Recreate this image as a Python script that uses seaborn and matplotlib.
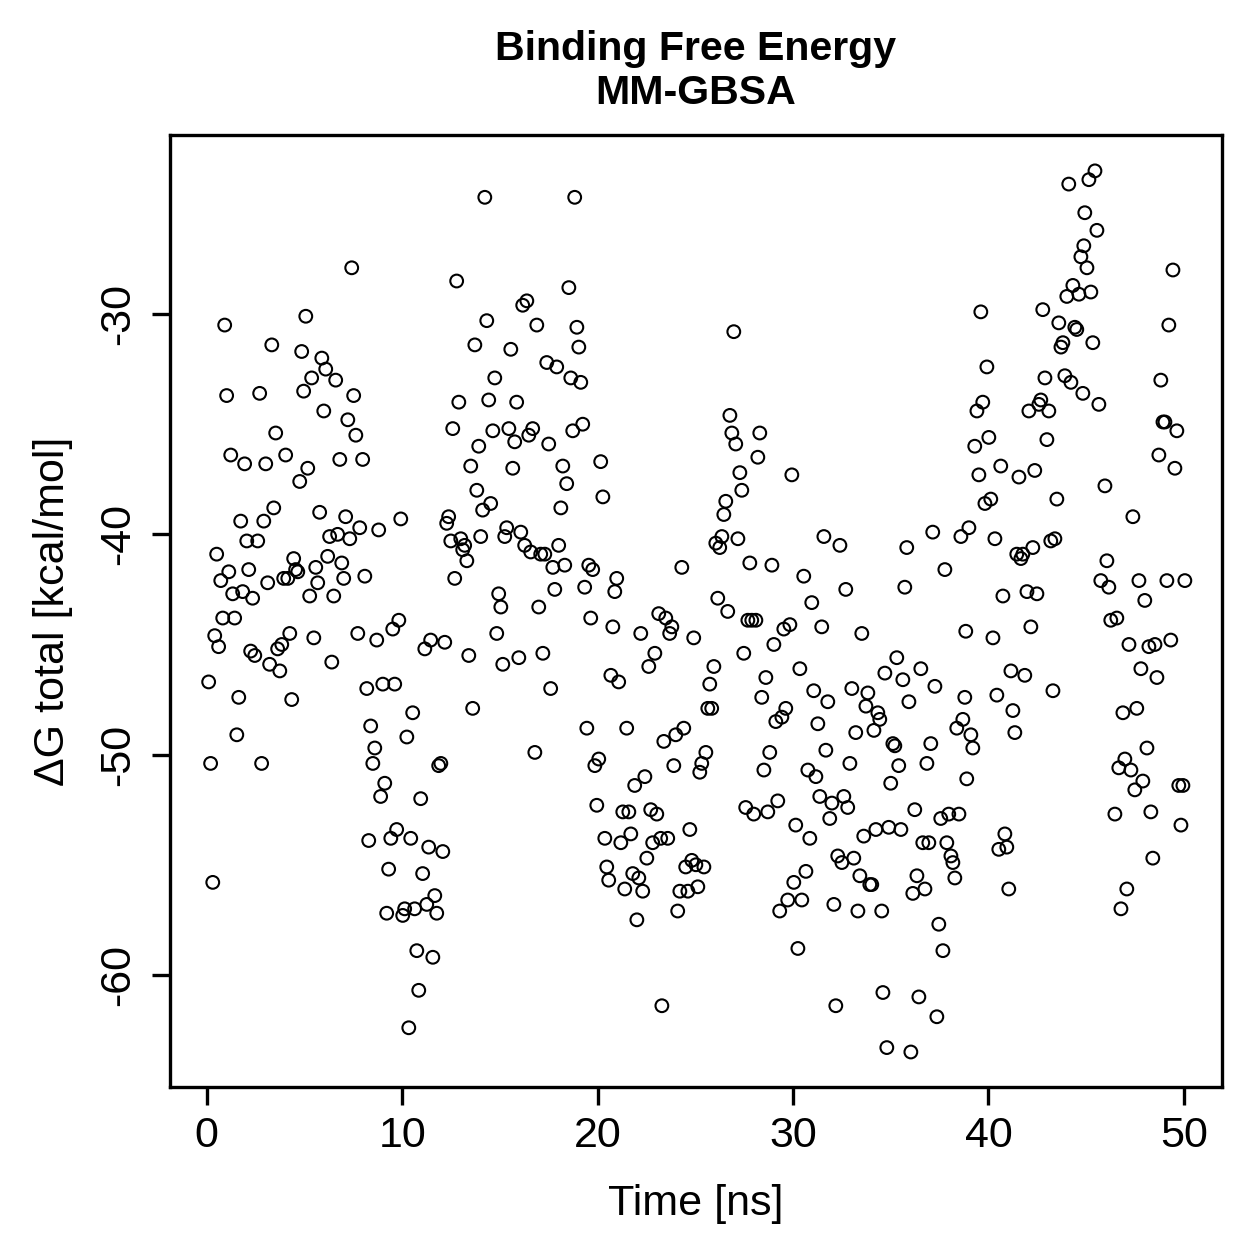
import matplotlib
matplotlib.use('Agg')
import matplotlib.pyplot as plt
import seaborn as sns
import pandas as pd

# time [ns] and total binding free energy [kcal/mol]
time_ns = [
    0.10, 0.20, 0.31, 0.41, 0.51, 0.61, 0.72, 0.82, 0.92, 1.02, 1.13, 1.23, 1.33, 1.43, 1.54, 1.64,
    1.74, 1.84, 1.94, 2.05, 2.15, 2.25, 2.35, 2.46, 2.61, 2.71, 2.81, 2.92, 3.02, 3.12, 3.22, 3.33,
    3.43, 3.53, 3.63, 3.74, 3.84, 3.94, 4.04, 4.15, 4.25, 4.35, 4.45, 4.55, 4.66, 4.76, 4.86, 4.96,
    5.07, 5.17, 5.27, 5.37, 5.48, 5.58, 5.68, 5.78, 5.89, 5.99, 6.09, 6.19, 6.29, 6.40, 6.50, 6.60,
    6.70, 6.81, 6.91, 7.01, 7.11, 7.22, 7.32, 7.42, 7.52, 7.63, 7.73, 7.83, 7.98, 8.09, 8.19, 8.29,
    8.39, 8.50, 8.60, 8.70, 8.80, 8.90, 9.01, 9.11, 9.21, 9.31, 9.42, 9.52, 9.62, 9.72, 9.83, 9.93,
    10.03, 10.13, 10.24, 10.34, 10.44, 10.54, 10.64, 10.75, 10.85, 10.95, 11.05, 11.16, 11.26, 11.36,
    11.46, 11.57, 11.67, 11.77, 11.87, 11.98, 12.08, 12.18, 12.28, 12.38, 12.49, 12.59, 12.69, 12.79,
    12.90, 13.00, 13.10, 13.20, 13.31, 13.41, 13.51, 13.61, 13.72, 13.82, 13.92, 14.02, 14.12, 14.23,
    14.33, 14.43, 14.53, 14.64, 14.74, 14.84, 14.94, 15.05, 15.15, 15.25, 15.35, 15.46, 15.56, 15.66,
    15.76, 15.86, 15.97, 16.07, 16.17, 16.27, 16.38, 16.48, 16.58, 16.68, 16.79, 16.89, 16.99, 17.09,
    17.20, 17.30, 17.40, 17.50, 17.60, 17.71, 17.81, 17.91, 18.01, 18.12, 18.22, 18.32, 18.42, 18.53,
    18.63, 18.73, 18.83, 18.94, 19.04, 19.14, 19.24, 19.34, 19.45, 19.55, 19.65, 19.75, 19.86, 19.96,
    20.06, 20.16, 20.27, 20.37, 20.47, 20.57, 20.68, 20.78, 20.88, 20.98, 21.08, 21.19, 21.29, 21.39,
    21.49, 21.60, 21.70, 21.80, 21.90, 22.01, 22.11, 22.21, 22.31, 22.42, 22.52, 22.62, 22.72, 22.82,
    22.93, 23.03, 23.13, 23.23, 23.29, 23.39, 23.49, 23.59, 23.69, 23.80, 23.90, 24.00, 24.10, 24.21,
    24.31, 24.41, 24.51, 24.62, 24.72, 24.82, 24.92, 25.03, 25.13, 25.23, 25.33, 25.44, 25.54, 25.64,
    25.74, 25.84, 25.95, 26.05, 26.15, 26.25, 26.36, 26.46, 26.56, 26.66, 26.77, 26.87, 26.97, 27.07,
    27.18, 27.28, 27.38, 27.48, 27.58, 27.69, 27.79, 27.89, 27.99, 28.10, 28.20, 28.30, 28.40, 28.51,
    28.61, 28.71, 28.81, 28.92, 29.02, 29.12, 29.22, 29.32, 29.43, 29.53, 29.63, 29.73, 29.84, 29.94,
    30.04, 30.14, 30.25, 30.35, 30.45, 30.55, 30.66, 30.76, 30.86, 30.96, 31.06, 31.17, 31.27, 31.37,
    31.47, 31.58, 31.68, 31.78, 31.88, 31.99, 32.09, 32.19, 32.29, 32.40, 32.50, 32.60, 32.70, 32.80,
    32.91, 33.01, 33.11, 33.21, 33.32, 33.42, 33.52, 33.62, 33.73, 33.83, 33.93, 34.03, 34.14, 34.24,
    34.34, 34.44, 34.54, 34.60, 34.70, 34.80, 34.90, 35.00, 35.11, 35.21, 35.31, 35.41, 35.52, 35.62,
    35.72, 35.82, 35.93, 36.03, 36.13, 36.23, 36.34, 36.44, 36.54, 36.64, 36.75, 36.85, 36.95, 37.05,
    37.15, 37.26, 37.36, 37.46, 37.56, 37.67, 37.77, 37.87, 37.97, 38.08, 38.18, 38.28, 38.38, 38.49,
    38.59, 38.69, 38.79, 38.84, 38.89, 39.00, 39.10, 39.20, 39.30, 39.41, 39.51, 39.61, 39.71, 39.82,
    39.92, 40.02, 40.12, 40.23, 40.33, 40.43, 40.53, 40.63, 40.74, 40.84, 40.94, 41.04, 41.15, 41.25,
    41.35, 41.45, 41.56, 41.66, 41.76, 41.86, 41.97, 42.07, 42.17, 42.27, 42.37, 42.48, 42.58, 42.68,
    42.78, 42.89, 42.99, 43.09, 43.19, 43.30, 43.40, 43.50, 43.60, 43.71, 43.81, 43.91, 44.01, 44.11,
    44.22, 44.32, 44.42, 44.52, 44.63, 44.73, 44.83, 44.88, 44.93, 45.04, 45.14, 45.24, 45.34, 45.45,
    45.55, 45.65, 45.75, 45.96, 46.06, 46.16, 46.26, 46.47, 46.57, 46.67, 46.78, 46.88, 46.98, 47.08,
    47.19, 47.29, 47.39, 47.49, 47.59, 47.70, 47.80, 47.90, 48.00, 48.11, 48.21, 48.31, 48.41, 48.52,
    48.62, 48.72, 48.82, 48.93, 49.03, 49.13, 49.23, 49.33, 49.44, 49.54, 49.64, 49.74, 49.85, 49.95,
    50.05,
]
dg_total = [
    -46.7, -50.4, -55.8, -44.6, -40.9, -45.1, -42.1, -43.8, -30.5, -33.7, -41.7, -36.4, -42.7, -43.8, -49.1, -47.4,
    -39.4, -42.6, -36.8, -40.3, -41.6, -45.3, -42.9, -45.5, -40.3, -33.6, -50.4, -39.4, -36.8, -42.2, -45.9, -31.4,
    -38.8, -35.4, -45.2, -46.2, -45.0, -42.0, -36.4, -42.0, -44.5, -47.5, -41.1, -41.6, -41.7, -37.6, -31.7, -33.5,
    -30.1, -37.0, -42.8, -32.9, -44.7, -41.5, -42.2, -39.0, -32.0, -34.4, -32.5, -41.0, -40.1, -45.8, -42.8, -33.0,
    -40.0, -36.6, -41.3, -42.0, -39.2, -34.8, -40.2, -27.9, -33.7, -35.5, -44.5, -39.7, -36.6, -41.9, -47.0, -53.9,
    -48.7, -50.4, -49.7, -44.8, -39.8, -51.9, -46.8, -51.3, -57.2, -55.2, -53.8, -44.3, -46.8, -53.4, -43.9, -39.3,
    -57.3, -57.0, -49.2, -62.4, -53.8, -48.1, -57.0, -58.9, -60.7, -52.0, -55.4, -45.2, -56.8, -54.2,
    -44.8, -59.2, -56.4, -57.2, -50.5, -50.4, -54.4, -44.9, -39.5, -39.2, -40.3, -35.2, -42.0, -28.5,
    -34.0, -40.2, -40.7, -40.5, -41.2, -45.5, -36.9, -47.9, -31.4, -38.0, -36.0, -40.1, -38.9, -24.7,
    -30.3, -33.9, -38.6, -35.3, -32.9, -44.5, -42.7, -43.3, -45.9, -40.1, -39.7, -35.2, -31.6, -37.0,
    -35.8, -34.0, -45.6, -39.9, -29.6, -40.5, -29.4, -35.5, -40.8, -35.2, -49.9, -30.5, -43.3, -40.9,
    -45.4, -40.9, -32.2, -35.9, -47.0, -41.5, -42.5, -32.4, -40.5, -38.8, -36.9, -41.4, -37.7, -28.8,
    -32.9, -35.3, -24.7, -30.6, -31.5, -33.1, -35.0, -42.4, -48.8, -41.4, -43.8, -41.6, -50.5, -52.3,
    -50.2, -36.7, -38.3, -53.8, -55.1, -55.7, -46.4, -44.2, -42.6, -42.0, -46.7, -54.0, -52.6, -56.1,
    -48.8, -52.6, -53.6, -55.4, -51.4, -57.5, -55.6, -44.5, -56.2, -51.0, -54.7, -46.0, -52.5, -54.0,
    -45.4, -52.7, -43.6, -53.8, -61.4, -49.4, -43.8, -53.8, -44.5, -44.2, -50.5, -49.1, -57.1, -56.2,
    -41.5, -48.8, -55.1, -56.2, -53.4, -54.8, -44.7, -55.0, -56.0, -50.8, -50.4, -55.1, -49.9, -47.9,
    -46.8, -47.9, -46.0, -40.4, -42.9, -40.6, -40.1, -39.1, -38.5, -43.5, -34.6, -35.4, -30.8, -35.9,
    -40.2, -37.2, -38.0, -45.4, -52.4, -43.9, -41.3, -43.9, -52.7, -43.9, -36.5, -35.4, -47.4, -50.7,
    -46.5, -52.6, -49.9, -41.4, -45.0, -48.5, -52.1, -57.1, -48.3, -44.3, -47.9, -56.6, -44.1, -37.3,
    -55.8, -53.2, -58.8, -46.1, -56.6, -41.9, -55.3, -50.7, -53.8, -43.1, -47.1, -51.0, -48.6, -51.9,
    -44.2, -40.1, -49.8, -47.6, -52.9, -52.2, -56.8, -61.4, -54.6, -40.5, -54.9, -51.9, -42.5, -52.4,
    -50.4, -47.0, -54.7, -49.0, -57.1, -55.5, -44.5, -53.7, -47.8, -47.2, -55.9, -55.9, -48.9, -53.4,
    -48.1, -48.4, -57.1, -60.8, -46.3, -63.3, -53.3, -51.3, -49.5, -49.6, -45.6, -50.5, -53.4, -46.6,
    -42.4, -40.6, -47.6, -63.5, -56.3, -52.5, -55.5, -61.0, -46.1, -54.0, -56.1, -50.4, -54.0, -49.5,
    -39.9, -46.9, -61.9, -57.7, -52.9, -58.9, -41.6, -54.0, -52.7, -54.6, -54.9, -55.6, -48.8, -52.7,
    -40.1, -48.4, -47.4, -44.4, -51.1, -39.7, -49.1, -49.7, -36.0, -34.4, -37.3, -29.9, -34.0, -38.6,
    -32.4, -35.6, -38.4, -44.7, -40.2, -47.3, -54.3, -36.9, -42.8, -53.6, -54.2, -56.1, -46.2, -48.0,
    -49.0, -40.9, -37.4, -41.1, -40.9, -46.4, -42.6, -34.4, -44.2, -40.6, -37.1, -42.7, -34.1, -33.9,
    -29.8, -32.9, -35.7, -34.4, -40.3, -47.1, -40.2, -38.4, -30.4, -31.5, -31.3, -32.8, -29.2, -24.1,
    -33.1, -28.7, -30.6, -30.7, -29.1, -27.4, -33.6, -26.9, -25.4, -27.9, -23.9, -29.0, -31.3, -23.5,
    -26.2, -34.1, -42.1, -37.8, -41.2, -42.4, -43.9, -52.7, -43.8, -50.6, -57.0, -48.1, -50.2, -56.1,
    -45.0, -50.7, -39.2, -51.6, -47.9, -42.1, -46.1, -51.2, -43.0, -49.7, -45.1, -52.6, -54.7, -45.0,
    -46.5, -36.4, -33.0, -34.9, -34.9, -42.1, -30.5, -44.8, -28.0, -37.0, -35.3, -51.4, -53.2, -51.4,
    -42.1,
]

x_ticks = [0, 10, 20, 30, 40, 50]
y_ticks = [-60, -50, -40, -30]

df = pd.DataFrame({'time': time_ns, 'dg': dg_total})

sns.set_theme(style='ticks')
plt.rcParams['font.family'] = ['Liberation Sans', 'DejaVu Sans']
plt.rcParams['axes.unicode_minus'] = False

fig = plt.figure(figsize=(6.295, 6.295), dpi=200)
ax = fig.add_axes([0.135, 0.1366, 0.8356, 0.7562])

sns.scatterplot(data=df, x='time', y='dg', ax=ax, marker='o', s=21,
                facecolors='none', edgecolor='black', linewidth=0.75, legend=False)

ax.set_xlim(-1.88, 51.95)
ax.set_ylim(-65.09, -21.87)
ax.set_xticks(x_ticks)
ax.set_yticks(y_ticks)
ax.set_xticklabels([str(t) for t in x_ticks])
ax.set_yticklabels([str(t) for t in y_ticks], rotation=90, va='center')

for sp in ax.spines.values():
    sp.set_visible(True)
    sp.set_linewidth(1.2)
    sp.set_color('black')
ax.tick_params(axis='both', direction='out', length=6.5, width=1.2, colors='black',
               labelsize=15.5)
ax.tick_params(axis='x', pad=4)
ax.tick_params(axis='y', pad=5)

ax.set_xlabel('Time [ns]', fontsize=15.5, labelpad=10, color='black')
ax.set_ylabel('\u0394G total [kcal/mol]', fontsize=15.5, labelpad=9, color='black')
ax.set_title('Binding Free Energy\nMM-GBSA', fontsize=14.8, fontweight='bold',
             linespacing=1.2, pad=11, color='black')

fig.savefig('out.png', dpi=200, facecolor='white')
